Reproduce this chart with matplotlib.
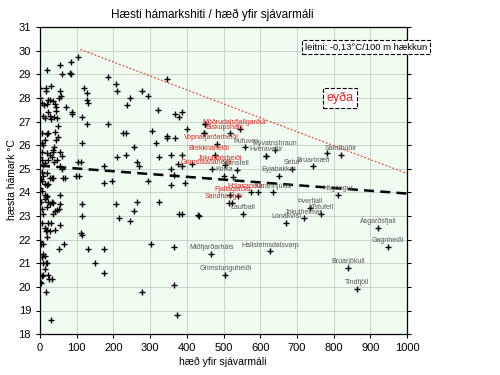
import numpy as np
import matplotlib
matplotlib.use("Agg")
import matplotlib.pyplot as plt

plt.rcParams['font.family'] = ['Liberation Sans', 'DejaVu Sans']

# unlabeled stations: elevation (m) and highest max temperature (°C)
elev = [104, 20, 55, 61, 84, 81, 84, 185, 207, 210, 346, 277, 295, 245, 236, 321,
        120, 127, 128, 130, 115, 127, 185, 86, 88, 70, 306, 316, 227, 234, 114, 255,
        368, 379, 388, 401, 450, 448, 345, 345, 368, 209, 234, 265, 270, 325, 356,
        386, 375, 386, 356, 365, 356, 395, 415, 295, 175, 195, 175, 103, 111, 98, 106,
        62, 68, 114, 115, 112, 114, 206, 214, 245, 255, 265, 325, 379, 386, 434,
        132, 175, 150, 175, 302, 365, 365, 278, 374, 30, 15,
        0, 0, 15, 15, 30, 6, 12, 18, 23, 27, 41, 36, 43, 52, 56, 55,
        9, 14, 23, 27, 30, 39, 45, 43, 50, 6, 18, 23, 41, 43, 50, 6, 9, 14, 38, 36,
        5, 18, 27, 32, 36, 55, 59, 0, 5, 9, 14, 23, 45, 39, 55, 59,
        5, 9, 18, 3, 6, 14, 18, 23, 27, 32, 36, 0, 5, 14, 15, 18,
        14, 23, 27, 32, 36, 3, 55, 55, 52, 45, 41, 36, 5, 9, 18,
        6, 14, 23, 18, 15, 27, 30, 41, 55, 18, 0, 3, 9, 52, 65,
        9, 14, 6, 9, 15, 20, 14, 0, 5, 9, 23, 25, 32, 0, 3,
        450, 448, 527, 595, 517, 522, 617, 781, 431]
tmax = [29.72, 29.2, 29.4, 29.0, 29.5, 29.05, 29.0, 28.9, 28.6, 28.3, 28.8, 28.3, 28.1, 28.0, 27.7, 27.5,
        28.4, 28.2, 27.9, 27.8, 27.2, 26.9, 26.9, 27.4, 27.3, 27.6, 26.6, 26.1, 26.5, 26.5, 26.1, 25.9,
        27.3, 27.2, 27.4, 26.7, 26.9, 26.5, 26.4, 26.3, 26.3, 25.5, 25.6, 25.3, 25.1, 25.5, 25.6,
        25.6, 25.2, 25.1, 25.0, 24.75, 24.3, 24.4, 25.2, 24.5, 24.4, 24.5, 25.1, 25.3, 25.3, 24.7, 24.7,
        24.6, 24.6, 23.5, 23.0, 22.3, 22.2, 23.5, 22.9, 22.8, 23.2, 23.6, 23.6, 23.1, 23.1, 23.0,
        21.6, 21.6, 21.0, 20.6, 21.8, 21.7, 20.1, 19.8, 18.8, 18.6, 19.8,
        28.4, 28.0, 28.4, 28.3, 28.5, 27.8, 27.7, 27.75, 27.9, 27.9, 27.75, 27.85, 27.6, 28.0, 28.1, 28.3,
        27.25, 27.15, 27.4, 27.25, 27.1, 27.2, 27.15, 27.45, 26.8, 26.5, 26.45, 26.5, 26.55, 26.2, 26.35, 26.1, 26.0, 26.2, 25.9, 25.8,
        25.7, 25.65, 25.6, 25.5, 25.7, 25.7, 25.55, 25.5, 25.35, 25.15, 25.25, 25.35, 25.35, 25.3, 25.1, 25.0,
        24.85, 24.7, 24.8, 24.55, 24.5, 24.35, 24.3, 24.35, 24.6, 24.6, 24.6, 24.2, 24.05, 23.9, 23.8, 23.85,
        23.7, 23.6, 23.5, 23.6, 23.55, 23.6, 23.9, 23.5, 23.3, 23.25, 23.2, 23.1, 23.3, 23.1, 23.4,
        22.7, 22.5, 22.7, 22.4, 22.35, 22.35, 22.7, 22.4, 22.6, 22.1, 21.95, 21.8, 21.8, 21.6, 21.8,
        21.4, 21.3, 21.25, 21.0, 21.0, 21.0, 20.75, 20.5, 20.45, 20.5, 20.5, 20.35, 20.35, 20.2, 20.15,
        26.9, 26.5, 24.65, 24.0, 23.9, 23.55, 25.55, 25.67, 23.05]

# named highland stations
red_names = ["Möðrudalsfjallgarður", "Biskupsháls", "Vopnafjarðarheiði", "Brekknaheiði",
             "Jökuldalsheiði", "Grímsstaðaheiði", "Hólasandur", "Fjallagarðar", "Sandhaugar"]
red_elev = [545, 518, 482, 476, 505, 470, 576, 540, 515]
red_tmax = [26.7, 26.5, 26.05, 25.6, 25.15, 25.0, 24.0, 23.85, 23.55]

grey_names = ["Þúfuver", "Mývatnshraun", "Hveravellir", "Setur", "Brúaröræfi", "Sandbúðir",
              "Eyjabakkar", "Vatnsfell", "Kolka", "Kárahnjúkar", "Hágöngur", "Laufbali",
              "Þverfjall", "Kistufell", "Jökulheimar", "Lónakvísl", "Ásgarðsfjall", "Gagnheiði",
              "Hallsteinsdalsvarp", "Miðfjarðarháls", "Grímstunguheiði", "Brúarjökull", "Tindfjöll"]
grey_elev = [559, 641, 617, 688, 745, 819, 650, 536, 502, 636, 813, 552,
             737, 766, 720, 671, 922, 947, 628, 467, 505, 840, 865]
grey_tmax = [25.9, 25.8, 25.55, 25.0, 25.1, 25.6, 24.7, 24.95, 24.7, 24.0, 23.9, 23.1,
             23.35, 23.1, 22.9, 22.7, 22.5, 21.7, 21.5, 21.4, 20.5, 20.8, 19.9]

# regression line and upper envelope
trend_x = [0, 1000]
trend_y = [25.13, 23.95]
upper_x = [110, 1000]
upper_y = [30.05, 24.8]

fig = plt.figure(figsize=(5, 3.75), dpi=100)
ax = fig.add_axes([0.08, 0.109, 0.734, 0.819])
ax.set_facecolor('#f0fcf0')

mk = dict(marker='+', ls='none', color='black', markersize=5, mew=1.0)
ax.plot(elev, tmax, **mk)
ax.plot(red_elev, red_tmax, **mk)
ax.plot(grey_elev, grey_tmax, **mk)

for n, x, y in zip(grey_names, grey_elev, grey_tmax):
    ax.annotate(n, (x, y), xytext=(0, 2), textcoords='offset points',
                ha='center', va='bottom', fontsize=5, color='#555555')
for n, x, y in zip(red_names, red_elev, red_tmax):
    ax.annotate(n, (x, y), xytext=(-4, 2), textcoords='offset points',
                ha='center', va='bottom', fontsize=5, color='#dd2222')

ax.plot(trend_x, trend_y, color='black', ls=(0, (4, 2.5)), lw=1.8)
ax.plot(upper_x, upper_y, color='#e05040', ls=(0, (1.5, 1.5)), lw=0.9)

ax.set_xlim(0, 1000)
ax.set_ylim(18, 31)
ax.set_xticks(np.arange(0, 1001, 100))
ax.set_yticks(np.arange(18, 32, 1))
ax.grid(True, color='#c8d4c8', lw=0.7)
ax.set_axisbelow(True)
ax.tick_params(labelsize=8, length=3, width=0.8, right=True, top=False)
for s in ax.spines.values():
    s.set_linewidth(0.9)

fig.text(212 / 500, 1 - 15 / 375, "Hæsti hámarkshiti / hæð yfir sjávarmáli",
         ha='center', va='center', fontsize=8.5)
fig.text(223 / 500, 1 - 362 / 375, "hæð yfir sjávarmáli", ha='center', va='center', fontsize=7.5)
fig.text(12 / 500, 1 - 180 / 375, "hæsta hámark °C", rotation=90, ha='center', va='center', fontsize=7.5)

fig.text(366 / 500, 1 - 47 / 375, "leitni: -0,13°C/100 m hækkun", ha='center', va='center',
         fontsize=6.8, bbox=dict(boxstyle='square,pad=0.3', fc='white', ec='black', ls='--', lw=0.8))
fig.text(340 / 500, 1 - 98 / 375, "eyða", ha='center', va='center', fontsize=9, color='#dd2222',
         bbox=dict(boxstyle='square,pad=0.3', fc='white', ec='black', ls='--', lw=0.8))

fig.savefig("out.png", dpi=100)
